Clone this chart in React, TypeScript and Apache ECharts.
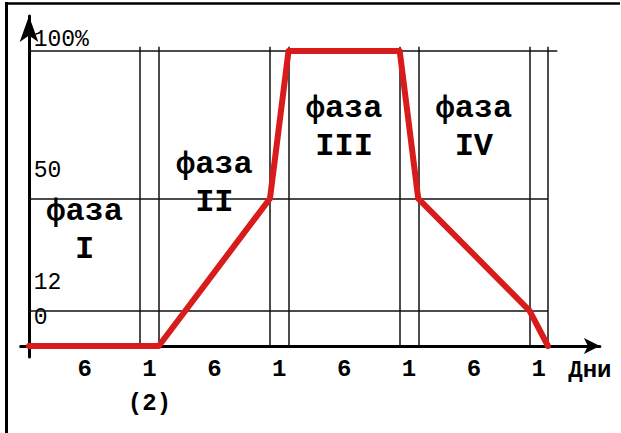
import React, { useEffect, useRef } from "react";
import * as echarts from "echarts";

// Durations of the consecutive periods (days) and their tick labels
const DURATIONS = [6, 1, 6, 1, 6, 1, 6, 1];
const DURATION_LABELS = ["6", "1\n(2)", "6", "1", "6", "1", "6", "1"];
// Level (%) at each period boundary (start of first … end of last)
const LEVELS = [0, 0, 0, 50, 100, 100, 50, 12, 0];
// Y reference levels and their labels
const Y_TICKS = [0, 12, 50, 100];
const Y_TICK_LABELS = ["0", "12", "50", "100%"];
// Phase names (one per long period)
const PHASES = ["I", "II", "III", "IV"];
const X_NAME = "Дни";

// layout-only constants
const PHASE_LABEL_Y = [39, 55, 74, 74];
const Y_LABEL_STYLE = ["zero", "mid", "mid", "top"];
const X_MIN = -0.45;
const X_MAX = 30.8;
const Y_MIN = -3.73;
const Y_MAX = 111.9;

const BOUNDARIES: number[] = DURATIONS.reduce(
  (acc: number[], d) => {
    acc.push(acc[acc.length - 1] + d);
    return acc;
  },
  [0]
);
const MIDPOINTS = DURATIONS.map((d, i) => BOUNDARIES[i] + d / 2);
const LAST = BOUNDARIES[BOUNDARIES.length - 1];

const FONT = "'Liberation Mono', 'Courier New', monospace";

export default function App() {
  const ref = useRef<HTMLDivElement>(null);
  useEffect(() => {
    if (!ref.current) return;
    const chart = echarts.init(ref.current, null, { renderer: "svg" });

    const gridLines: any[] = [];
    BOUNDARIES.slice(1).forEach((b) => {
      gridLines.push([{ coord: [b, 0] }, { coord: [b, 101.5] }]);
    });
    Y_TICKS.slice(1).forEach((v) => {
      const end = v === 100 ? LAST + 0.5 : LAST;
      gridLines.push([{ coord: [0, v] }, { coord: [end, v] }]);
    });

    const phaseData = PHASES.map((p, i) => ({
      name: "фаза\n" + p,
      value: [MIDPOINTS[i * 2], PHASE_LABEL_Y[i]],
    }));

    const yRichBase = { fontFamily: FONT, fontSize: 23, color: "#000" };

    chart.setOption({
      animation: false,
      backgroundColor: "#ffffff",
      grid: {
        left: 20.66,
        right: 21.1,
        top: 16,
        bottom: 76,
        containLabel: false,
        outerBoundsMode: "none",
      },
      xAxis: {
        type: "value",
        min: X_MIN,
        max: X_MAX,
        axisLine: {
          show: true,
          onZero: true,
          symbol: ["none", "arrow"],
          symbolSize: [12, 16],
          lineStyle: { color: "#000", width: 3 },
        },
        axisTick: { show: false },
        splitLine: { show: false },
        axisLabel: {
          customValues: MIDPOINTS,
          formatter: (v: number) => {
            const i = MIDPOINTS.findIndex((m) => Math.abs(m - v) < 1e-6);
            return i >= 0 ? DURATION_LABELS[i] : "";
          },
          fontFamily: FONT,
          fontWeight: "bold",
          fontSize: 24,
          lineHeight: 34,
          margin: -5,
          color: "#000",
        },
        name: X_NAME,
        nameLocation: "end",
        nameGap: -10,
        nameTextStyle: {
          fontFamily: FONT,
          fontWeight: "bold",
          fontSize: 24,
          color: "#000",
          align: "center",
          verticalAlign: "top",
          lineHeight: 20,
          padding: [14, 0, 0, 0],
        },
      },
      yAxis: {
        type: "value",
        min: Y_MIN,
        max: Y_MAX,
        axisLine: {
          show: true,
          onZero: true,
          symbol: ["none", "arrow"],
          symbolSize: [14, 26],
          lineStyle: { color: "#000", width: 3 },
        },
        axisTick: { show: false },
        splitLine: { show: false },
        axisLabel: {
          inside: true,
          customValues: Y_TICKS,
          formatter: (v: number) => {
            const i = Y_TICKS.indexOf(v);
            return i >= 0 ? "{" + Y_LABEL_STYLE[i] + "|" + Y_TICK_LABELS[i] + "}" : "";
          },
          verticalAlign: "bottom",
          align: "left",
          margin: 13,
          rich: {
            zero: { ...yRichBase, lineHeight: 56 },
            mid: { ...yRichBase, lineHeight: 56 },
            top: { ...yRichBase, lineHeight: 22 },
          },
        },
      },
      graphic: [
        {
          type: "line",
          shape: { x1: 6.5, y1: 2, x2: 6.5, y2: 433 },
          style: { stroke: "#000", lineWidth: 3 },
        },
        {
          type: "line",
          shape: { x1: 5, y1: 3.5, x2: 620, y2: 3.5 },
          style: { stroke: "#000", lineWidth: 2.5 },
        },
      ],
      series: [
        {
          type: "line",
          data: [],
          silent: true,
          z: 1,
          markLine: {
            silent: true,
            symbol: "none",
            label: { show: false },
            lineStyle: { color: "#111", width: 1.5, type: "solid" },
            data: gridLines,
          },
        },
        {
          type: "line",
          data: BOUNDARIES.map((b, i) => [b, LEVELS[i]]),
          symbol: "none",
          z: 5,
          lineStyle: { color: "#d81c1c", width: 6, join: "round", cap: "round" },
        },
        {
          type: "scatter",
          data: phaseData,
          symbol: "circle",
          symbolSize: 1,
          itemStyle: { color: "rgba(0,0,0,0)" },
          z: 6,
          label: {
            show: true,
            position: "inside",
            formatter: "{b}",
            fontFamily: FONT,
            fontWeight: "bold",
            fontSize: 32,
            lineHeight: 38,
            color: "#000",
            opacity: 1,
            textBorderWidth: 0,
          },
        },
      ],
    });
    return () => chart.dispose();
  }, []);
  return (
    <div
      ref={ref}
      style={{ position: "fixed", left: 0, top: 0, width: 621, height: 433 }}
    />
  );
}
